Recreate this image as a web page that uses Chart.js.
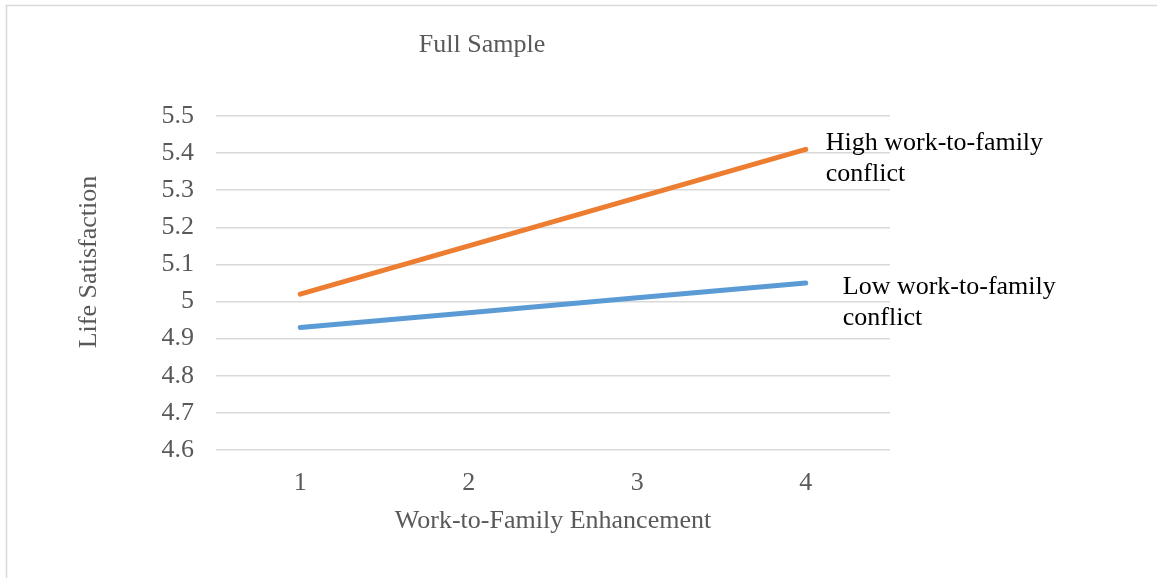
<!DOCTYPE html>
<html>
<head>
<meta charset="utf-8">
<script src="https://cdn.jsdelivr.net/npm/chart.js@4"></script>
<style>
  html, body { margin: 0; padding: 0; background: #fff; }
  #wrap { width: 1157px; height: 578px; position: relative; }
</style>
</head>
<body>
<div id="wrap"><canvas id="myChart" width="1157" height="578"></canvas></div>
<script>
var categories = ["1", "2", "3", "4"];
var highConflict = [5.02, 5.15, 5.28, 5.41];
var lowConflict = [4.93, 4.97, 5.01, 5.05];
var yTickValues = [4.6, 4.7, 4.8, 4.9, 5.0, 5.1, 5.2, 5.3, 5.4, 5.5];
var yTickLabels = ["4.6", "4.7", "4.8", "4.9", "5", "5.1", "5.2", "5.3", "5.4", "5.5"];

var FONT = "'Liberation Serif', 'Times New Roman', serif";
var GREY = "#595959";

// titles, frame and end labels drawn straight on the canvas
var textPlugin = {
  id: "textPlugin",
  afterDraw: function (chart) {
    var c = chart.ctx;
    var area = chart.chartArea;
    c.save();
    // frame (left + top only, rest is cropped off)
    c.strokeStyle = "#d9d9d9";
    c.lineWidth = 1.5;
    c.beginPath();
    c.moveTo(6.5, 578);
    c.lineTo(6.5, 5.5);
    c.lineTo(1157, 5.5);
    c.stroke();

    c.font = "26px " + FONT;
    c.fillStyle = GREY;
    c.textBaseline = "middle";
    c.textAlign = "center";
    c.fillText("Full Sample", 482, 45);
    c.fillText("Work-to-Family Enhancement", (area.left + area.right) / 2, 521);

    c.save();
    c.translate(89, 262);
    c.rotate(-Math.PI / 2);
    c.fillText("Life Satisfaction", 0, 0);
    c.restore();

    // series labels next to the last point
    c.fillStyle = "#000";
    c.textAlign = "left";
    var hi = chart.getDatasetMeta(0).data[3];
    var lo = chart.getDatasetMeta(1).data[3];
    c.fillText("High work-to-family", hi.x + 20, hi.y - 6);
    c.fillText("conflict", hi.x + 20, hi.y + 25);
    c.fillText("Low work-to-family", lo.x + 37, lo.y + 4);
    c.fillText("conflict", lo.x + 37, lo.y + 35);
    c.restore();
  }
};

var ctx = document.getElementById("myChart");
var myChart = new Chart(ctx, {
  type: "line",
  data: {
    labels: categories,
    datasets: [
      {
        label: "High work-to-family conflict",
        data: highConflict,
        borderColor: "#ED7D31",
        backgroundColor: "#ED7D31",
        borderWidth: 5,
        borderCapStyle: "round",
        pointRadius: 0,
        tension: 0
      },
      {
        label: "Low work-to-family conflict",
        data: lowConflict,
        borderColor: "#5B9BD5",
        backgroundColor: "#5B9BD5",
        borderWidth: 5,
        borderCapStyle: "round",
        pointRadius: 0,
        tension: 0
      }
    ]
  },
  options: {
    responsive: false,
    animation: false,
    layout: { padding: { top: 116, right: 267, left: 0, bottom: 0 } },
    plugins: {
      legend: { display: false },
      title: { display: false },
      tooltip: { enabled: false }
    },
    scales: {
      x: {
        offset: true,
        grid: { display: false, drawTicks: false },
        border: { display: false },
        ticks: {
          color: GREY,
          font: { family: FONT, size: 26 },
          padding: 18,
          maxRotation: 0
        },
        afterFit: function (scale) { scale.height = 128; }
      },
      y: {
        min: 4.6,
        max: 5.5,
        grid: { color: "#d9d9d9", lineWidth: 1.5, drawTicks: false },
        border: { display: false },
        ticks: {
          color: GREY,
          font: { family: FONT, size: 26 },
          padding: 22,
          callback: function (value) {
            var i = yTickValues.findIndex(function (v) { return Math.abs(v - value) < 1e-6; });
            return i >= 0 ? yTickLabels[i] : "";
          }
        },
        afterBuildTicks: function (scale) {
          scale.ticks = yTickValues.map(function (v) { return { value: v }; });
        },
        afterFit: function (scale) { scale.width = 216; }
      }
    }
  },
  plugins: [textPlugin]
});
</script>
</body>
</html>
